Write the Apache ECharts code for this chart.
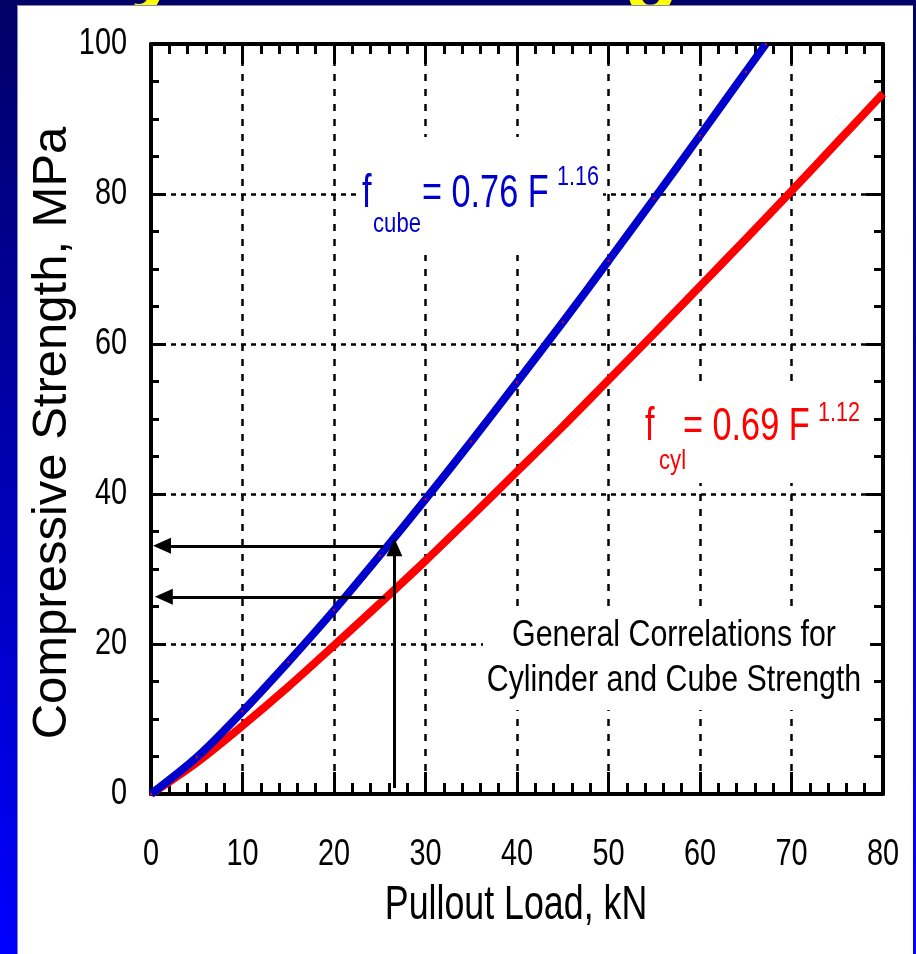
<!DOCTYPE html>
<html>
<head>
<meta charset="utf-8">
<script src="https://cdn.jsdelivr.net/npm/echarts@6/dist/echarts.min.js"></script>
<style>
  html, body { margin: 0; padding: 0; }
  #page {
    position: relative; width: 916px; height: 954px; overflow: hidden;
    background: linear-gradient(to bottom, #000066 0%, #0000ff 100%);
  }
  .title-bit {
    position: absolute; top: -88px; line-height: 90px;
    font: bold 90px 'Liberation Sans', Arial, sans-serif; color: #ffff00;
  }
  #panel {
    position: absolute; left: 17px; top: 5px; width: 895px; height: 949px;
    background: #fff; border-left: 1px solid #8888bb; border-top: 1px solid #8888bb;
  }
  #chart { position: absolute; left: 0; top: 0; width: 916px; height: 954px; }
</style>
</head>
<body>
<div id="page">
  <span class="title-bit" style="left:130px">y</span>
  <span class="title-bit" style="left:624px">g</span>
  <div id="panel"></div>
  <div id="chart"></div>
</div>
<script>
// values
const xTicks = [0, 10, 20, 30, 40, 50, 60, 70, 80]
const yTicks = [0, 20, 40, 60, 80, 100]
const loadCube = [0, 5, 10, 15, 20, 25, 30, 35, 40, 45, 50, 55, 60, 65, 67.2]
const strengthCube = [0, 4.9, 11.0, 17.6, 24.5, 31.8, 39.3, 47.0, 54.9, 62.9, 71.1, 79.4, 87.8, 96.3, 100]
const loadCyl = [0, 5, 10, 15, 20, 25, 30, 35, 40, 45, 50, 55, 60, 65, 70, 75, 80]
const strengthCyl = [0, 4.2, 9.1, 14.3, 19.8, 25.4, 31.1, 37.0, 43.0, 49.0, 55.2, 61.4, 67.7, 74.0, 80.4, 86.9, 93.4]

// arrows: [start, end of shaft (arrow head centre)]
const arrows = [
  [[26.6, 0.8], [26.6, 32.9]],
  [[25.4, 33.1], [1.2, 33.1]],
  [[25.6, 26.3], [1.4, 26.3]]
]

// Arial Narrow look: Liberation Sans squeezed horizontally
const sans = "'Liberation Sans', Arial, sans-serif"

var chart = echarts.init(document.getElementById('chart'))

function frameAxis(pos, majorLen, minorLen, minorSplit, extra) {
  return Object.assign({
    type: 'value',
    position: pos,
    axisLine: { show: true, onZero: false, lineStyle: { color: '#000', width: 4 } },
    axisTick: { show: true, inside: true, length: majorLen, lineStyle: { color: '#000', width: 3 } },
    minorTick: { show: true, splitNumber: minorSplit, length: minorLen, lineStyle: { color: '#000', width: 3 } },
    axisLabel: { show: false },
    splitLine: { show: false }
  }, extra)
}

chart.setOption({
  animation: false,
  grid: { left: 151, right: 33, top: 44, bottom: 160, outerBoundsMode: 'none' },
  xAxis: [
    frameAxis('bottom', 22, 11, 5, {
      min: 0, max: 80, interval: 10,
      splitLine: { show: true, lineStyle: { color: '#000', width: 2.5, type: [7, 8] } }
    }),
    frameAxis('top', 20, 10, 5, { min: 0, max: 80, interval: 10 })
  ],
  yAxis: [
    frameAxis('left', 15, 8, 4, {
      min: 0, max: 100, interval: 20,
      splitLine: { show: true, lineStyle: { color: '#000', width: 2.5, type: [5, 5] } }
    }),
    frameAxis('right', 17, 9, 4, { min: 0, max: 100, interval: 20 })
  ],
  series: [
    {
      name: 'cyl',
      type: 'line',
      data: loadCyl.map((x, i) => [x, strengthCyl[i]]),
      smooth: 0.3,
      showSymbol: false,
      lineStyle: { color: '#ff0000', width: 8 },
      z: 3
    },
    {
      name: 'cube',
      type: 'line',
      data: loadCube.map((x, i) => [x, strengthCube[i]]),
      smooth: 0.3,
      symbol: 'rect',
      symbolSize: 2,
      itemStyle: { color: '#ff0000' },
      lineStyle: { color: '#0000cc', width: 8 },
      z: 4
    },
    {
      name: 'arrows',
      type: 'line',
      data: [],
      z: 5,
      markLine: {
        silent: true,
        symbol: ['none', 'triangle'],
        symbolSize: [16, 18],
        label: { show: false },
        lineStyle: { color: '#000', width: 3, type: 'solid' },
        data: arrows.map(a => [{ coord: a[0] }, { coord: a[1] }])
      }
    }
  ]
})

function txt(x, y, text, size, color, squeeze, align) {
  return {
    type: 'text', x: x, y: y, z: 51, scaleX: squeeze,
    style: { text: text, font: size + 'px ' + sans, fill: color, align: align || 'left', verticalAlign: 'middle' }
  }
}

const graphics = []

// tick labels placed through the axis scales
xTicks.forEach(v => {
  const px = chart.convertToPixel({ xAxisIndex: 0 }, v)
  const py = chart.convertToPixel({ yAxisIndex: 0 }, 0)
  graphics.push(txt(px, py + 61, String(v), 37, '#000', 0.78, 'center'))
})
yTicks.forEach(v => {
  const px = chart.convertToPixel({ xAxisIndex: 0 }, 0)
  const py = chart.convertToPixel({ yAxisIndex: 0 }, v)
  graphics.push(txt(px - 24, py, String(v), 37, '#000', 0.78, 'right'))
})

// axis titles
graphics.push(txt(516, 906, 'Pullout Load, kN', 48, '#000', 0.745, 'center'))
graphics.push({
  type: 'text', x: 52, y: 433, rotation: Math.PI / 2, z: 50,
  style: { text: 'Compressive Strength, MPa', font: '49px ' + sans, fill: '#000', align: 'center', verticalAlign: 'middle' }
})

// cube label
graphics.push({ type: 'rect', shape: { x: 360, y: 137, width: 243, height: 118 }, style: { fill: '#fff' }, z: 50 })
graphics.push(txt(362, 194, 'f', 46, '#0000cc', 0.745))
graphics.push(txt(373, 225, 'cube', 27, '#0000cc', 0.82))
graphics.push(txt(422, 194, '= 0.76 F', 46, '#0000cc', 0.745))
graphics.push(txt(557, 178, '1.16', 27, '#0000cc', 0.8))

// cyl label
graphics.push({ type: 'rect', shape: { x: 640, y: 383, width: 225, height: 100 }, style: { fill: '#fff' }, z: 50 })
graphics.push(txt(645, 427, 'f', 46, '#ff0000', 0.745))
graphics.push(txt(659, 462, 'cyl', 27, '#ff0000', 0.82))
graphics.push(txt(683, 427, '= 0.69 F', 46, '#ff0000', 0.745))
graphics.push(txt(818, 414, '1.12', 27, '#ff0000', 0.8))

// general note
graphics.push({ type: 'rect', shape: { x: 483, y: 607, width: 387, height: 103 }, style: { fill: '#fff' }, z: 50 })
graphics.push(txt(674, 636, 'General Correlations for', 37, '#000', 0.82, 'center'))
graphics.push(txt(674, 681, 'Cylinder and Cube Strength', 37, '#000', 0.82, 'center'))

chart.setOption({ graphic: graphics })
</script>
</body>
</html>
